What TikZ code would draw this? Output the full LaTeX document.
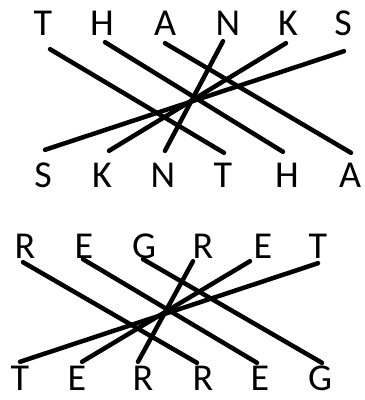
\documentclass[tikz,border=0pt]{standalone}
\usepackage{fontspec}
\setmainfont{Carlito}
\usetikzlibrary{calc}

\begin{document}
\begin{tikzpicture}[
    x=1pt, y=-1pt,
    letter/.style={inner sep=0pt, text height=24pt, text depth=0pt, font=\fontsize{38}{40}\selectfont},
    link/.style={line width=4.5pt, line cap=round}
]
\useasboundingbox (0,0) rectangle (365,400);

% THANKS
\foreach \name/\x/\txt in {th1/43/T, th2/102/H, th3/165/A, th4/228/N, th5/288/K, th6/343/S}
  \node[letter] (\name) at (\x,23) {\txt};
\foreach \name/\x/\txt in {sk1/43/S, sk2/102/K, sk3/163/N, sk4/223/T, sk5/287/H, sk6/350/A}
  \node[letter] (\name) at (\x,175) {\txt};

\draw[link] ($(th1.south)+(7,14)$) -- ($(sk4.north)+(1,-10)$);
\draw[link] ($(th2.south)+(3,7)$) -- ($(sk5.north)+(-4,-11)$);
\draw[link] ($(th3.south)+(0,8)$) -- ($(sk6.north)+(1,-10)$);
\draw[link] ($(th4.south)+(-5,6)$) -- ($(sk3.north)+(2,-12)$);
\draw[link] ($(th5.south)+(-2,8)$) -- ($(sk2.north)+(7,-12)$);
\draw[link] ($(th6.south)+(1,16)$) -- ($(sk1.north)+(2,-13)$);

% REGRET
\foreach \name/\x/\txt in {rg1/25/R, rg2/84/E, rg3/144/G, rg4/203/R, rg5/263/E, rg6/318/T}
  \node[letter] (\name) at (\x,246) {\txt};
\foreach \name/\x/\txt in {te1/20/T, te2/77/E, te3/143/R, te4/203/R, te5/260/E, te6/320/G}
  \node[letter] (\name) at (\x,378) {\txt};

\draw[link] ($(rg1.south)+(-2,4)$) -- ($(te4.north)+(-6,-3)$);
\draw[link] ($(rg2.south)+(-1,1)$) -- ($(te5.north)+(-3,-3)$);
\draw[link] ($(rg3.south)+(-1,1)$) -- ($(te6.north)+(2,-3)$);
\draw[link] ($(rg4.south)+(-10,3)$) -- ($(te3.north)+(-5,-4)$);
\draw[link] ($(rg5.south)+(-13,3)$) -- ($(te2.north)+(5,-4)$);
\draw[link] ($(rg6.south)+(0,5)$) -- ($(te1.north)+(0,-4)$);
\end{tikzpicture}
\end{document}
